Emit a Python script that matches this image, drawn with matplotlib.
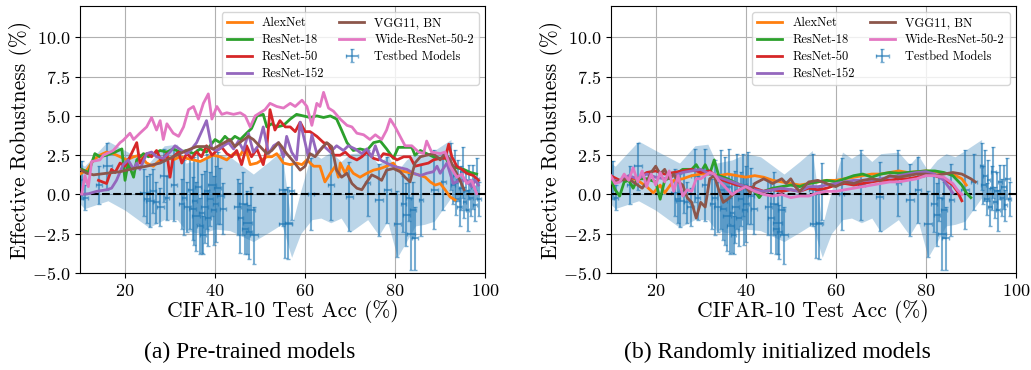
import numpy as np
import matplotlib.pyplot as plt

plt.rcParams['font.family'] = 'serif'
plt.rcParams['font.serif'] = ['cmr10']
plt.rcParams['mathtext.fontset'] = 'cm'
plt.rcParams['axes.formatter.use_mathtext'] = True

# testbed models (same in both panels)
tb_x = [10.5, 11.2, 14.2, 16.1,
        24.2, 24.9, 25.5, 26.2, 26.9, 27.8, 28.7, 29.3, 30.9,
        32.6, 33.1, 33.8, 34.5, 35.0, 35.4, 35.8, 36.2, 36.6, 37.0, 37.3,
        37.7, 38.1, 38.5, 38.9, 39.3, 39.7, 40.1, 40.6, 41.2, 41.8,
        45.0, 45.6, 46.2, 46.7, 47.1, 47.5, 48.0, 48.6,
        55.0, 55.6, 56.3, 57.0,
        61.3, 65.7, 69.8, 73.9, 76.4, 78.3,
        80.5, 81.8, 82.5, 83.0, 83.5, 84.0, 84.4, 85.7, 88.7, 90.7,
        92.4, 92.8, 93.2, 93.5, 93.9, 94.3, 94.6, 95.0, 95.4, 95.8, 96.1,
        96.5, 96.9, 97.3, 97.7, 98.1, 98.6]
tb_y = [0.9, -0.2, 0.6, 1.8,
        0.1, -0.3, -0.4, 0.2, -0.5, -0.8, 1.2, -0.2, 0.6,
        -0.6, -0.2, -0.8, 0.3, -0.9, -0.4, -1.4, 0.5, -2.0, -1.2, -2.6,
        -0.8, 0.2, -1.5, -0.3, 0.6, -1.0, -0.6, 0.4, -0.1, -0.9,
        -0.8, -1.5, -0.6, -2.2, -1.8, -2.4, -1.0, -2.6,
        0.3, -1.85, -1.8, 0.2,
        0.05, 0.6, -0.15, 0.7, -0.35, 0.3,
        -1.85, -0.6, -1.3, -0.2, -2.5, -1.0, -2.8, -0.35, 0.3, 0.8,
        1.8, 0.6, 1.2, -0.3, 0.9, -0.8, 0.4, 1.4, -0.5, 0.2, -1.0,
        0.8, -0.2, 0.5, -0.7, 1.0, -0.3]
tb_yerr = [1.2, 0.8, 1.2, 1.5,
           1.5, 1.5, 1.7, 1.4, 1.3, 1.2, 1.7, 1.4, 2.3,
           1.6, 2.4, 1.6, 2.5, 2.0, 2.8, 2.2, 2.4, 1.8, 2.5, 1.2,
           2.3, 2.4, 1.8, 1.7, 2.0, 2.2, 2.4, 2.3, 1.8, 1.6,
           1.8, 2.2, 2.0, 1.6, 2.0, 1.7, 1.5, 1.8,
           2.3, 2.2, 2.3, 1.8,
           2.3, 2.2, 2.2, 2.1, 2.3, 2.1,
           2.1, 1.8, 2.0, 1.5, 2.3, 1.8, 2.0, 2.3, 2.5, 1.8,
           1.5, 1.2, 1.6, 1.0, 1.3, 1.2, 1.4, 1.6, 1.0, 1.2, 1.3,
           1.1, 1.2, 1.4, 1.0, 1.3, 1.1]
tb_xerr = [0.5, 0.5, 0.6, 0.9,
           0.8, 0.6, 0.9, 0.7, 0.6, 0.8, 0.9, 0.5, 0.7,
           0.6, 0.5, 0.8, 0.6, 0.7, 0.5, 0.9, 0.6, 0.7, 0.5, 0.6,
           0.8, 0.5, 0.7, 0.6, 0.9, 0.5, 0.6, 0.8, 0.7, 0.6,
           0.8, 0.6, 0.9, 0.7, 1.0, 0.6, 0.8, 0.9,
           0.9, 1.4, 0.8, 0.6,
           0.6, 0.7, 0.8, 0.6, 0.9, 0.7,
           0.8, 0.6, 0.7, 0.5, 0.9, 0.6, 0.7, 0.5, 0.8, 0.6,
           0.4, 0.5, 0.4, 0.6, 0.4, 0.5, 0.4, 0.5, 0.4, 0.6, 0.4,
           0.5, 0.4, 0.5, 0.4, 0.5, 0.4]

# shaded band around the testbed fit
band_x = [10.0, 11.0, 16.2, 20.0, 25.3, 28.7, 31.6, 33.5, 37.0, 40.0, 43.3,
          48.5, 52.0, 54.8, 57.0, 59.0, 61.5, 63.5, 65.7, 68.0, 70.0, 73.9,
          76.4, 78.3, 80.5, 82.5, 84.5, 86.5, 88.7, 92.4]
band_hi = [2.0, 1.8, 3.4, 2.8, 2.0, 3.1, 3.2, 2.0, 2.2, 2.6, 2.4,
           1.3, 2.1, 2.8, -2.0, 0.2, 2.7, 2.3, 2.7, 2.1, 2.6, 2.7,
           1.9, 2.5, 1.5, 2.2, 2.6, 2.4, 2.8, 3.5]
band_lo = [-0.6, -0.9, -0.4, -1.0, -2.1, -1.6, -1.6, -2.3, -2.5, -2.2, -2.3,
           -3.0, -2.4, -1.9, -4.0, -2.5, -1.6, -1.5, -1.8, -1.5, -2.4, -1.6,
           -2.6, -1.7, -4.0, -3.0, -2.0, -1.9, -1.7, -0.2]

names = ['AlexNet', 'ResNet-18', 'ResNet-50', 'ResNet-152', 'VGG11, BN', 'Wide-ResNet-50-2']
colors = ['C1', 'C2', 'C3', 'C4', 'C5', 'C6']

# (a) pre-trained
pt_alex_x = [10.0, 11.5, 13.0, 14.4, 15.9, 17.4, 18.9, 20.4, 21.9, 23.3, 24.8, 26.3, 27.8,
             29.3, 30.7, 32.2, 33.7, 35.2, 36.7, 38.1, 39.6, 41.1, 42.6, 44.1, 45.6, 46.7,
             47.8, 49.3, 50.4, 51.5, 52.6, 53.7, 55.2, 56.7, 58.1, 59.3, 60.4, 61.9, 63.3,
             64.4, 65.6, 66.7, 67.4, 67.8, 68.9, 69.6, 70.7, 72.2, 73.7, 75.2, 76.7, 78.1,
             79.6, 80.7, 82.2, 83.7, 85.2, 86.7, 87.8, 88.9, 90.0, 91.1, 92.2, 93.3]
pt_alex_y = [1.3, 1.55, 2.2, 2.5, 2.7, 2.6, 2.4, 2.2, 2.4, 2.5, 2.0, 1.8, 2.2,
             2.4, 2.2, 2.4, 2.3, 2.2, 2.1, 2.3, 2.5, 2.4, 2.2, 2.6, 2.5, 3.05,
             1.9, 2.0, 2.2, 2.4, 2.4, 2.6, 2.0, 1.9, 2.0, 1.9, 2.2, 1.8, 1.8,
             0.8, 1.35, 1.8, 1.1, 2.0, 1.35, 1.8, 1.35, 1.1, 1.35, 1.55, 1.65, 1.8,
             2.0, 1.55, 1.45, 1.35, 1.25, 1.1, 0.8, 0.6, 0.7, 0.3, -0.15, -0.35]
pt_r18_x = [10.4, 11.9, 13.3, 14.4, 15.9, 17.8, 19.3, 20.0, 20.7, 21.9, 22.6, 24.1, 25.2,
            26.7, 27.8, 29.3, 30.7, 32.2, 33.7, 35.2, 36.7, 38.1, 38.9, 40.0, 41.1, 42.2,
            43.3, 44.4, 45.6, 47.0, 48.1, 49.3, 50.7, 51.5, 52.6, 53.7, 55.2, 56.7, 58.1,
            59.6, 61.1, 62.6, 64.1, 65.6, 67.0, 68.1, 69.3, 70.7, 72.2, 73.7, 75.2, 76.7,
            78.1, 79.6, 80.7, 82.2, 83.7, 84.4, 85.6, 87.0, 88.5, 90.0, 91.1, 92.2, 93.7,
            95.2, 96.7, 98.1]
pt_r18_y = [1.6, 1.4, 2.6, 2.4, 2.5, 2.7, 2.9, 0.9, 2.0, 1.1, 2.2, 2.6, 2.4,
            2.6, 2.8, 2.7, 2.9, 2.7, 2.8, 2.6, 2.9, 2.7, 3.1, 3.5, 3.3, 3.7,
            3.4, 3.7, 3.5, 3.9, 4.2, 5.0, 5.1, 4.3, 4.5, 4.3, 4.4, 4.8, 5.1,
            5.0, 4.9, 5.0, 4.9, 5.0, 4.8, 4.1, 3.3, 2.8, 2.9, 2.8, 3.3, 3.4,
            2.9, 2.3, 3.0, 3.0, 3.0, 2.5, 2.8, 2.6, 2.4, 2.3, 2.4, 1.8, 1.7,
            1.6, 1.4, 1.3]
pt_r50_x = [14.1, 15.0, 15.9, 17.0, 17.8, 18.9, 20.0, 21.1, 22.6, 23.3, 24.8, 25.9, 27.0,
            28.1, 29.3, 30.0, 30.7, 31.9, 32.6, 33.7, 34.8, 35.9, 37.0, 38.1, 39.3, 40.4,
            41.5, 42.6, 43.7, 44.8, 45.9, 47.0, 48.1, 49.3, 50.7, 51.5, 52.2, 53.3, 54.4,
            55.6, 56.7, 57.8, 58.9, 60.0, 61.1, 62.6, 64.1, 65.2, 66.3, 67.8, 68.9, 70.0,
            71.5, 72.6, 73.7, 75.2, 76.3, 77.4, 78.9, 80.4, 81.9, 83.3, 84.4, 85.9, 87.4,
            88.5, 90.0, 91.1, 91.9, 92.6, 93.7, 94.8, 95.9, 97.4, 98.5]
pt_r50_y = [0.9, 0.8, 0.7, 1.6, 1.4, 2.0, 1.8, 2.4, 3.3, 2.0, 2.6, 2.4, 2.8,
            2.1, 2.6, 1.1, 2.4, 2.7, 2.0, 2.6, 2.3, 2.7, 2.4, 3.1, 2.5, 2.8,
            3.0, 2.6, 2.4, 2.8, 1.9, 3.1, 2.4, 2.9, 1.9, 3.0, 5.4, 4.1, 4.7,
            4.3, 4.3, 4.0, 4.6, 4.0, 4.0, 3.7, 3.3, 3.2, 2.5, 2.5, 2.7, 2.4,
            2.2, 2.4, 2.7, 2.3, 2.2, 2.6, 2.5, 2.2, 2.4, 2.4, 1.8, 1.9, 2.0,
            2.2, 2.3, 2.3, 3.2, 2.4, 1.8, 1.6, 1.35, 1.2, 0.9]
pt_r152_x = [10.4, 11.9, 13.7, 15.9, 17.0, 18.1, 19.6, 20.7, 21.9, 22.6, 23.3, 24.8, 25.9,
             27.0, 28.5, 30.0, 31.1, 32.6, 33.7, 34.8, 35.9, 37.0, 38.1, 39.3, 40.4, 41.9,
             43.0, 44.1, 45.2, 46.3, 47.4, 48.5, 49.6, 50.7, 51.9, 53.0, 54.1, 55.2, 55.9,
             57.0, 58.1, 58.9, 60.0, 60.7, 61.5, 62.6, 64.1, 65.6, 67.0, 68.5, 69.6, 71.1,
             72.6, 73.7, 74.8, 75.6, 76.7, 78.1, 79.6, 81.1, 82.6, 84.1, 85.6, 87.0, 88.5,
             89.3, 90.0, 91.5, 92.9, 94.4, 95.9, 97.0, 97.8, 98.5]
pt_r152_y = [0.0, 0.05, 0.2, 0.3, 0.4, 0.9, 1.9, 2.2, 1.6, 2.0, 1.6, 2.6, 2.7,
             2.4, 2.3, 2.7, 3.1, 2.8, 2.6, 2.9, 3.3, 4.0, 4.7, 2.9, 2.8, 3.1,
             3.3, 2.9, 3.4, 2.8, 3.9, 2.7, 3.1, 4.3, 2.6, 3.1, 3.3, 2.4, 3.7,
             2.7, 2.2, 4.6, 3.3, 2.4, 3.8, 2.6, 3.1, 2.7, 3.1, 2.8, 3.1, 2.9,
             2.6, 2.9, 2.4, 3.1, 2.2, 2.0, 1.8, 1.7, 1.6, 1.35, 1.2, 1.35, 1.45,
             1.8, 1.35, 2.0, 0.7, 0.9, 0.9, 0.5, 0.9, 0.6]
pt_vgg_x = [10.0, 11.5, 13.0, 15.9, 18.9, 21.9, 24.8, 27.8, 30.7, 33.7, 35.9, 38.1, 39.6,
            41.1, 43.3, 44.4, 45.9, 47.4, 48.5, 50.0, 51.5, 52.6, 54.1, 54.8, 55.9, 57.4,
            58.9, 60.0, 61.1, 62.2, 63.3, 64.8, 65.9, 67.0, 68.1, 69.3, 70.4, 71.5, 72.6,
            73.7, 74.8, 75.9, 77.0, 78.1, 79.6, 81.1, 82.2, 83.3, 84.4, 85.6, 87.0, 88.5,
            90.0, 91.1, 92.2, 93.3, 94.4, 95.3]
pt_vgg_y = [1.6, 1.35, 1.25, 1.35, 1.45, 1.65, 1.8, 2.0, 2.4, 2.8, 3.05, 3.05, 2.9,
            3.15, 3.5, 3.05, 3.4, 3.7, 3.5, 3.05, 2.6, 2.8, 3.3, 3.05, 2.6, 2.1,
            1.55, 1.8, 2.6, 2.4, 2.8, 3.3, 3.05, 1.55, 1.1, 1.35, 0.7, 0.4, 0.3,
            0.8, 1.25, 1.1, 0.9, 1.55, 1.65, 1.45, 1.1, 0.8, 2.0, 2.4, 2.5, 2.6,
            2.2, 2.6, 2.2, 1.55, 0.9, 0.3]
pt_wrn_x = [10.4, 11.1, 11.85, 12.6, 14.4, 15.2, 16.7, 17.4, 18.9, 19.6, 21.1, 21.9, 23.3,
            24.8, 25.9, 27.0, 27.8, 28.5, 29.3, 30.7, 31.9, 33.0, 34.1, 35.2, 36.3, 37.4,
            38.5, 39.3, 40.4, 41.5, 42.6, 44.1, 45.6, 46.7, 47.8, 48.9, 50.0, 51.1, 52.2,
            53.7, 55.2, 56.7, 57.8, 59.3, 60.4, 61.5, 62.6, 63.3, 64.1, 65.2, 66.3, 67.8,
            69.3, 70.4, 71.5, 73.0, 74.4, 75.6, 77.0, 78.1, 78.9, 80.0, 81.1, 82.2, 83.7,
            85.2, 86.3, 87.0, 88.1, 90.0, 91.1, 92.2, 93.7, 94.8, 95.9, 97.0, 98.1]
pt_wrn_y = [0.05, 1.2, 0.5, 2.1, 2.2, 2.5, 2.7, 2.8, 3.3, 3.45, 3.9, 3.5, 3.9,
            4.3, 4.9, 4.1, 4.7, 3.5, 4.5, 3.9, 3.7, 4.3, 5.4, 5.6, 4.8, 5.8,
            6.4, 4.8, 5.6, 5.1, 5.2, 5.1, 5.2, 5.0, 4.3, 5.0, 5.2, 5.4, 5.8,
            5.6, 5.5, 5.8, 5.6, 6.0, 5.6, 4.4, 5.8, 5.6, 6.5, 5.5, 5.3, 4.8,
            4.4, 4.3, 3.9, 3.8, 3.5, 3.8, 3.5, 4.1, 4.8, 4.3, 3.7, 3.1, 3.1,
            2.7, 2.6, 3.4, 2.7, 2.6, 2.7, 1.8, 1.1, 1.3, 0.7, 0.9, 0.05]

# (b) randomly initialized
ri_alex_x = [10, 12, 14, 16, 18, 19.5, 21, 22, 24, 26, 28, 30, 32, 34, 36, 38, 40, 42, 44, 46, 48,
             50, 52, 54, 56, 58, 60, 62, 64, 66, 68, 70, 72, 74, 76, 78, 80, 82, 84, 86, 88, 89]
ri_alex_y = [1.0, 0.9, 1.1, 0.9, 0.5, 0.1, 0.6, 0.1, 0.9, 1.0, 1.2, 1.3, 1.3, 1.2, 1.3, 1.2, 1.1,
             1.2, 1.1, 0.9, 0.8, 0.7, 0.6, 0.7, 0.8, 0.9, 0.9, 1.0, 1.1, 1.2, 1.3, 1.3, 1.4, 1.5,
             1.4, 1.45, 1.5, 1.45, 1.35, 1.3, 1.0, 0.6]
ri_r18_x = [10, 11, 12, 13, 14, 15, 16, 18, 20, 21, 22, 24, 26, 28, 29, 30, 31, 32, 33, 34, 36,
            38, 40, 42, 43, 44, 46, 48, 50, 52, 54, 56, 58, 60, 62, 64, 66, 68, 70, 72, 74, 76,
            78, 80, 82, 84, 86, 88, 89, 90]
ri_r18_y = [1.0, 0.3, -0.1, 0.8, 0.9, 0.4, 1.0, 1.0, 0.8, -0.3, 0.9, 1.2, 1.6, 1.6, 1.9, 1.4,
            1.9, 1.3, 2.2, 1.2, 1.0, 0.7, 0.5, 0.2, -0.2, 0.2, 0.4, 0.5, 0.6, 0.5, 0.7, 0.8, 0.9,
            0.8, 1.0, 1.2, 1.3, 1.1, 1.3, 1.4, 1.35, 1.4, 1.45, 1.5, 1.5, 1.4, 1.2, 0.6, 0.1, -0.2]
ri_r50_x = [10, 12, 14, 16, 18, 20, 22, 24, 26, 28, 30, 32, 34, 36, 38, 40, 42, 44, 46, 48, 50,
            52, 54, 56, 58, 60, 62, 64, 66, 68, 70, 72, 74, 76, 78, 80, 82, 84, 86, 87, 88]
ri_r50_y = [1.2, 0.9, 1.1, 1.0, 1.4, 1.5, 1.3, 1.4, 1.5, 1.6, 1.4, 1.5, 1.0, 0.8, 0.6, 0.5, 0.4,
            0.2, 0.3, 0.2, 0.3, 0.2, 0.4, 0.3, 0.4, 0.6, 0.7, 0.6, 0.7, 0.8, 0.9, 0.9, 1.0, 1.0,
            1.1, 1.2, 1.2, 1.0, 0.6, 0.2, -0.4]
ri_r152_x = [10, 12, 14, 16, 18, 20, 22, 24, 26, 28, 30, 32, 34, 36, 38, 40, 42, 44, 46, 48, 50,
             52, 54, 56, 58, 60, 62, 64, 66, 68, 70, 72, 74, 76, 78, 80, 82, 84, 85, 86]
ri_r152_y = [1.0, 0.8, 1.2, 1.0, 1.3, 1.1, 1.0, 1.2, 1.4, 1.5, 1.6, 1.3, 1.1, 0.9, 0.7, 0.5, 0.3,
             0.2, 0.3, 0.4, 0.3, 0.2, 0.5, 0.5, 0.6, 0.7, 0.8, 0.9, 0.9, 0.9, 1.0, 1.1, 1.2, 1.3,
             1.4, 1.45, 1.3, 0.9, 0.5, 0.1]
ri_vgg_x = [10, 11, 12, 14, 16, 17, 18, 19, 20, 21, 22, 23, 24, 25, 26, 27, 28, 29, 30, 31, 32,
            33, 34, 35, 36, 38, 40, 41, 42, 44, 46, 48, 49, 50, 51, 52, 54, 56, 58, 60, 62, 64,
            66, 68, 70, 72, 74, 76, 78, 80, 82, 84, 86, 88, 90, 91]
ri_vgg_y = [1.1, 0.8, 0.9, 1.0, 0.6, 0.4, 0.8, 1.4, 1.8, 1.3, 1.6, 1.0, 1.3, 0.8, 0.6, -0.2,
            -0.5, -1.5, -0.5, -0.8, 1.0, 1.2, 0.3, -0.5, -0.3, 0.2, 0.5, 0.1, 0.7, 1.0, 0.7, 1.0,
            0.7, 1.0, 0.5, 0.2, 0.8, 0.9, 0.7, 0.5, 0.8, 0.7, 0.9, 1.0, 0.9, 1.2, 1.1, 1.2, 1.3,
            1.3, 1.2, 1.3, 1.4, 1.3, 1.0, 0.8]
ri_wrn_x = [10, 11, 12, 13, 14, 15, 16, 17, 18, 19, 20, 21, 22, 23, 24, 25, 26, 27, 28, 29, 30,
            31, 32, 33, 34, 36, 37, 38, 40, 42, 44, 46, 48, 50, 52, 54, 56, 58, 60, 62, 64, 66,
            68, 70, 72, 74, 76, 78, 80, 82, 84, 86, 87, 88]
ri_wrn_y = [1.2, 0.7, 0.8, 1.3, 0.9, 1.7, 0.8, 1.5, 0.5, 1.3, 0.6, 1.4, 0.8, 1.5, 0.2, 1.2,
            -0.1, 0.3, 0.2, 1.0, 1.0, 1.2, 1.4, 1.3, 0.9, 0.3, 0.0, 0.2, 0.5, 0.2, 0.0, -0.1, 0.0,
            -0.2, -0.1, -0.1, 0.1, 0.2, 0.2, 0.3, 0.4, 0.5, 0.6, 0.7, 0.8, 0.8, 0.9, 1.0, 1.2,
            1.2, 1.1, 0.7, 0.3, 0.0]

pretrained = [(pt_alex_x, pt_alex_y), (pt_r18_x, pt_r18_y), (pt_r50_x, pt_r50_y),
              (pt_r152_x, pt_r152_y), (pt_vgg_x, pt_vgg_y), (pt_wrn_x, pt_wrn_y)]
random_init = [(ri_alex_x, ri_alex_y), (ri_r18_x, ri_r18_y), (ri_r50_x, ri_r50_y),
               (ri_r152_x, ri_r152_y), (ri_vgg_x, ri_vgg_y), (ri_wrn_x, ri_wrn_y)]


def draw(ax, curves):
    ax.fill_between(band_x, band_lo, band_hi, color='C0', alpha=0.3, lw=0)
    ax.errorbar(tb_x, tb_y, xerr=tb_xerr, yerr=tb_yerr, fmt='none', ecolor='C0',
                alpha=0.6, elinewidth=1.5, capsize=1.5, label='Testbed Models')
    ax.axhline(0, color='k', ls='--', lw=1.5, zorder=3)
    for name, c, (x, y) in zip(names, colors, curves):
        ax.plot(x, y, color=c, lw=2, label=name, zorder=4)
    ax.set_xlim(10, 100)
    ax.set_ylim(-5, 12)
    ax.set_xticks([20, 40, 60, 80, 100])
    ax.set_yticks([-5, -2.5, 0, 2.5, 5, 7.5, 10])
    ax.grid(True, color='#b0b0b0', lw=0.8)
    ax.set_axisbelow(True)
    ax.tick_params(labelsize=13)
    ax.set_xlabel('CIFAR-10 Test Acc (%)', fontsize=15.5, labelpad=1)
    ax.set_ylabel('Effective Robustness (%)', fontsize=15.5, labelpad=0)
    ax.legend(loc='upper right', ncol=2, fontsize=9, labelspacing=0.38,
              columnspacing=1.2, handlelength=2.0)


fig = plt.figure(figsize=(10.31, 3.70), dpi=100)
ax1 = fig.add_axes([0.0776, 0.262, 0.393, 0.722])
ax2 = fig.add_axes([0.5923, 0.262, 0.393, 0.722])
draw(ax1, pretrained)
draw(ax2, random_init)

fig.text(0.242, 0.047, '(a) Pre-trained models', ha='center', va='center',
         fontsize=17, family='Liberation Serif')
fig.text(0.754, 0.047, '(b) Randomly initialized models', ha='center', va='center',
         fontsize=17, family='Liberation Serif')

fig.savefig('out.png', dpi=100)
